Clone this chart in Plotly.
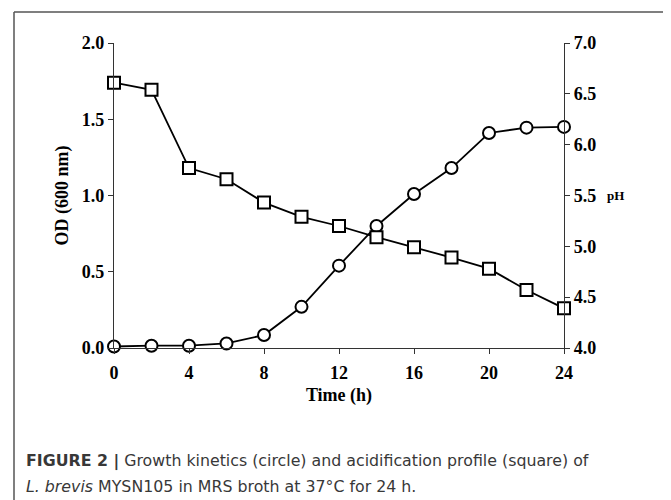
import plotly.graph_objects as go

time_h = [0, 2, 4, 6, 8, 10, 12, 14, 16, 18, 20, 22, 24]
od_600 = [0.01, 0.015, 0.015, 0.03, 0.085, 0.27, 0.54, 0.80, 1.01, 1.18, 1.41, 1.445, 1.45]
ph_vals = [6.61, 6.54, 5.77, 5.66, 5.43, 5.29, 5.20, 5.09, 4.99, 4.89, 4.78, 4.57, 4.39]

x_ticks = [0, 4, 8, 12, 16, 20, 24]
od_ticks = [0.0, 0.5, 1.0, 1.5, 2.0]
ph_ticks = [4.0, 4.5, 5.0, 5.5, 6.0, 6.5, 7.0]

OFF = 8  # page body margin
W, H = 671 - OFF, 500 - OFF
L, R, T, B = 114 - OFF, 671 - 564, 43 - OFF, 500 - 348
PW, PH_ = W - L - R, H - T - B

def px(xp):
    return (xp - OFF - L) / PW

def py(yp):
    return 1 - (yp - OFF - T) / PH_

serif = "Liberation Serif"
tickfont = dict(family=serif, size=18, color="black", weight="bold")
titlefont = dict(family=serif, size=18, color="black", weight="bold")
axcol = "#333"

fig = go.Figure()
fig.add_trace(go.Scatter(
    x=time_h, y=ph_vals, yaxis="y2", mode="lines+markers",
    line=dict(color="black", width=1.8),
    marker=dict(symbol="square", size=12, color="white", line=dict(color="black", width=2)),
    cliponaxis=False, showlegend=False))
fig.add_trace(go.Scatter(
    x=time_h, y=od_600, mode="lines+markers",
    line=dict(color="black", width=1.8),
    marker=dict(symbol="circle", size=12, color="white", line=dict(color="black", width=2)),
    cliponaxis=False, showlegend=False))

fig.update_layout(
    width=W, height=H,
    margin=dict(l=L, r=R, t=T, b=B, pad=0),
    paper_bgcolor="white", plot_bgcolor="white",
    xaxis=dict(range=[0, 24], tickvals=x_ticks, ticks="outside", ticklen=5, tickwidth=1.2,
               tickcolor=axcol, showline=True, linecolor=axcol, linewidth=1.2,
               showgrid=False, zeroline=False, tickfont=tickfont, ticklabelstandoff=3,
               title=dict(text="Time (h)", font=titlefont, standoff=6)),
    yaxis=dict(range=[0, 2.0], tickvals=od_ticks, tickformat=".1f", ticks="outside", ticklen=5,
               tickwidth=1.2, tickcolor=axcol, showline=True, linecolor=axcol, linewidth=1.2,
               showgrid=False, zeroline=False, tickfont=tickfont,
               title=dict(text="OD (600 nm)", font=titlefont, standoff=8)),
    yaxis2=dict(range=[4.0, 7.0], tickvals=ph_ticks, tickformat=".1f", overlaying="y", side="right",
                ticks="outside", ticklen=5, tickwidth=1.2, tickcolor=axcol, showline=True,
                linecolor=axcol, linewidth=1.2, showgrid=False, zeroline=False, tickfont=tickfont),
)

fig.add_annotation(text="pH", xref="paper", yref="paper", x=px(615), y=py(195),
                   showarrow=False, font=dict(family=serif, size=13, color="black", weight="bold"),
                   xanchor="center", yanchor="middle")

# figure frame
fig.add_shape(type="line", xref="paper", yref="paper", x0=px(14), x1=px(14), y0=py(12), y1=py(500),
              line=dict(color="#555", width=1.5))
fig.add_shape(type="line", xref="paper", yref="paper", x0=px(14), x1=px(671), y0=py(12), y1=py(12),
              line=dict(color="#555", width=1.5))

capfont = dict(family="DejaVu Sans", size=15.8, color="#383838")
fig.add_annotation(text="<b>FIGURE 2 |</b> Growth kinetics (circle) and acidification profile (square) of",
                   xref="paper", yref="paper", x=px(24), y=py(461), xanchor="left", yanchor="middle",
                   showarrow=False, font=capfont)
fig.add_annotation(text="<i>L. brevis</i> MYSN105 in MRS broth at 37°C for 24 h.",
                   xref="paper", yref="paper", x=px(24), y=py(486), xanchor="left", yanchor="middle",
                   showarrow=False, font=capfont)

fig.write_html("out.html")
